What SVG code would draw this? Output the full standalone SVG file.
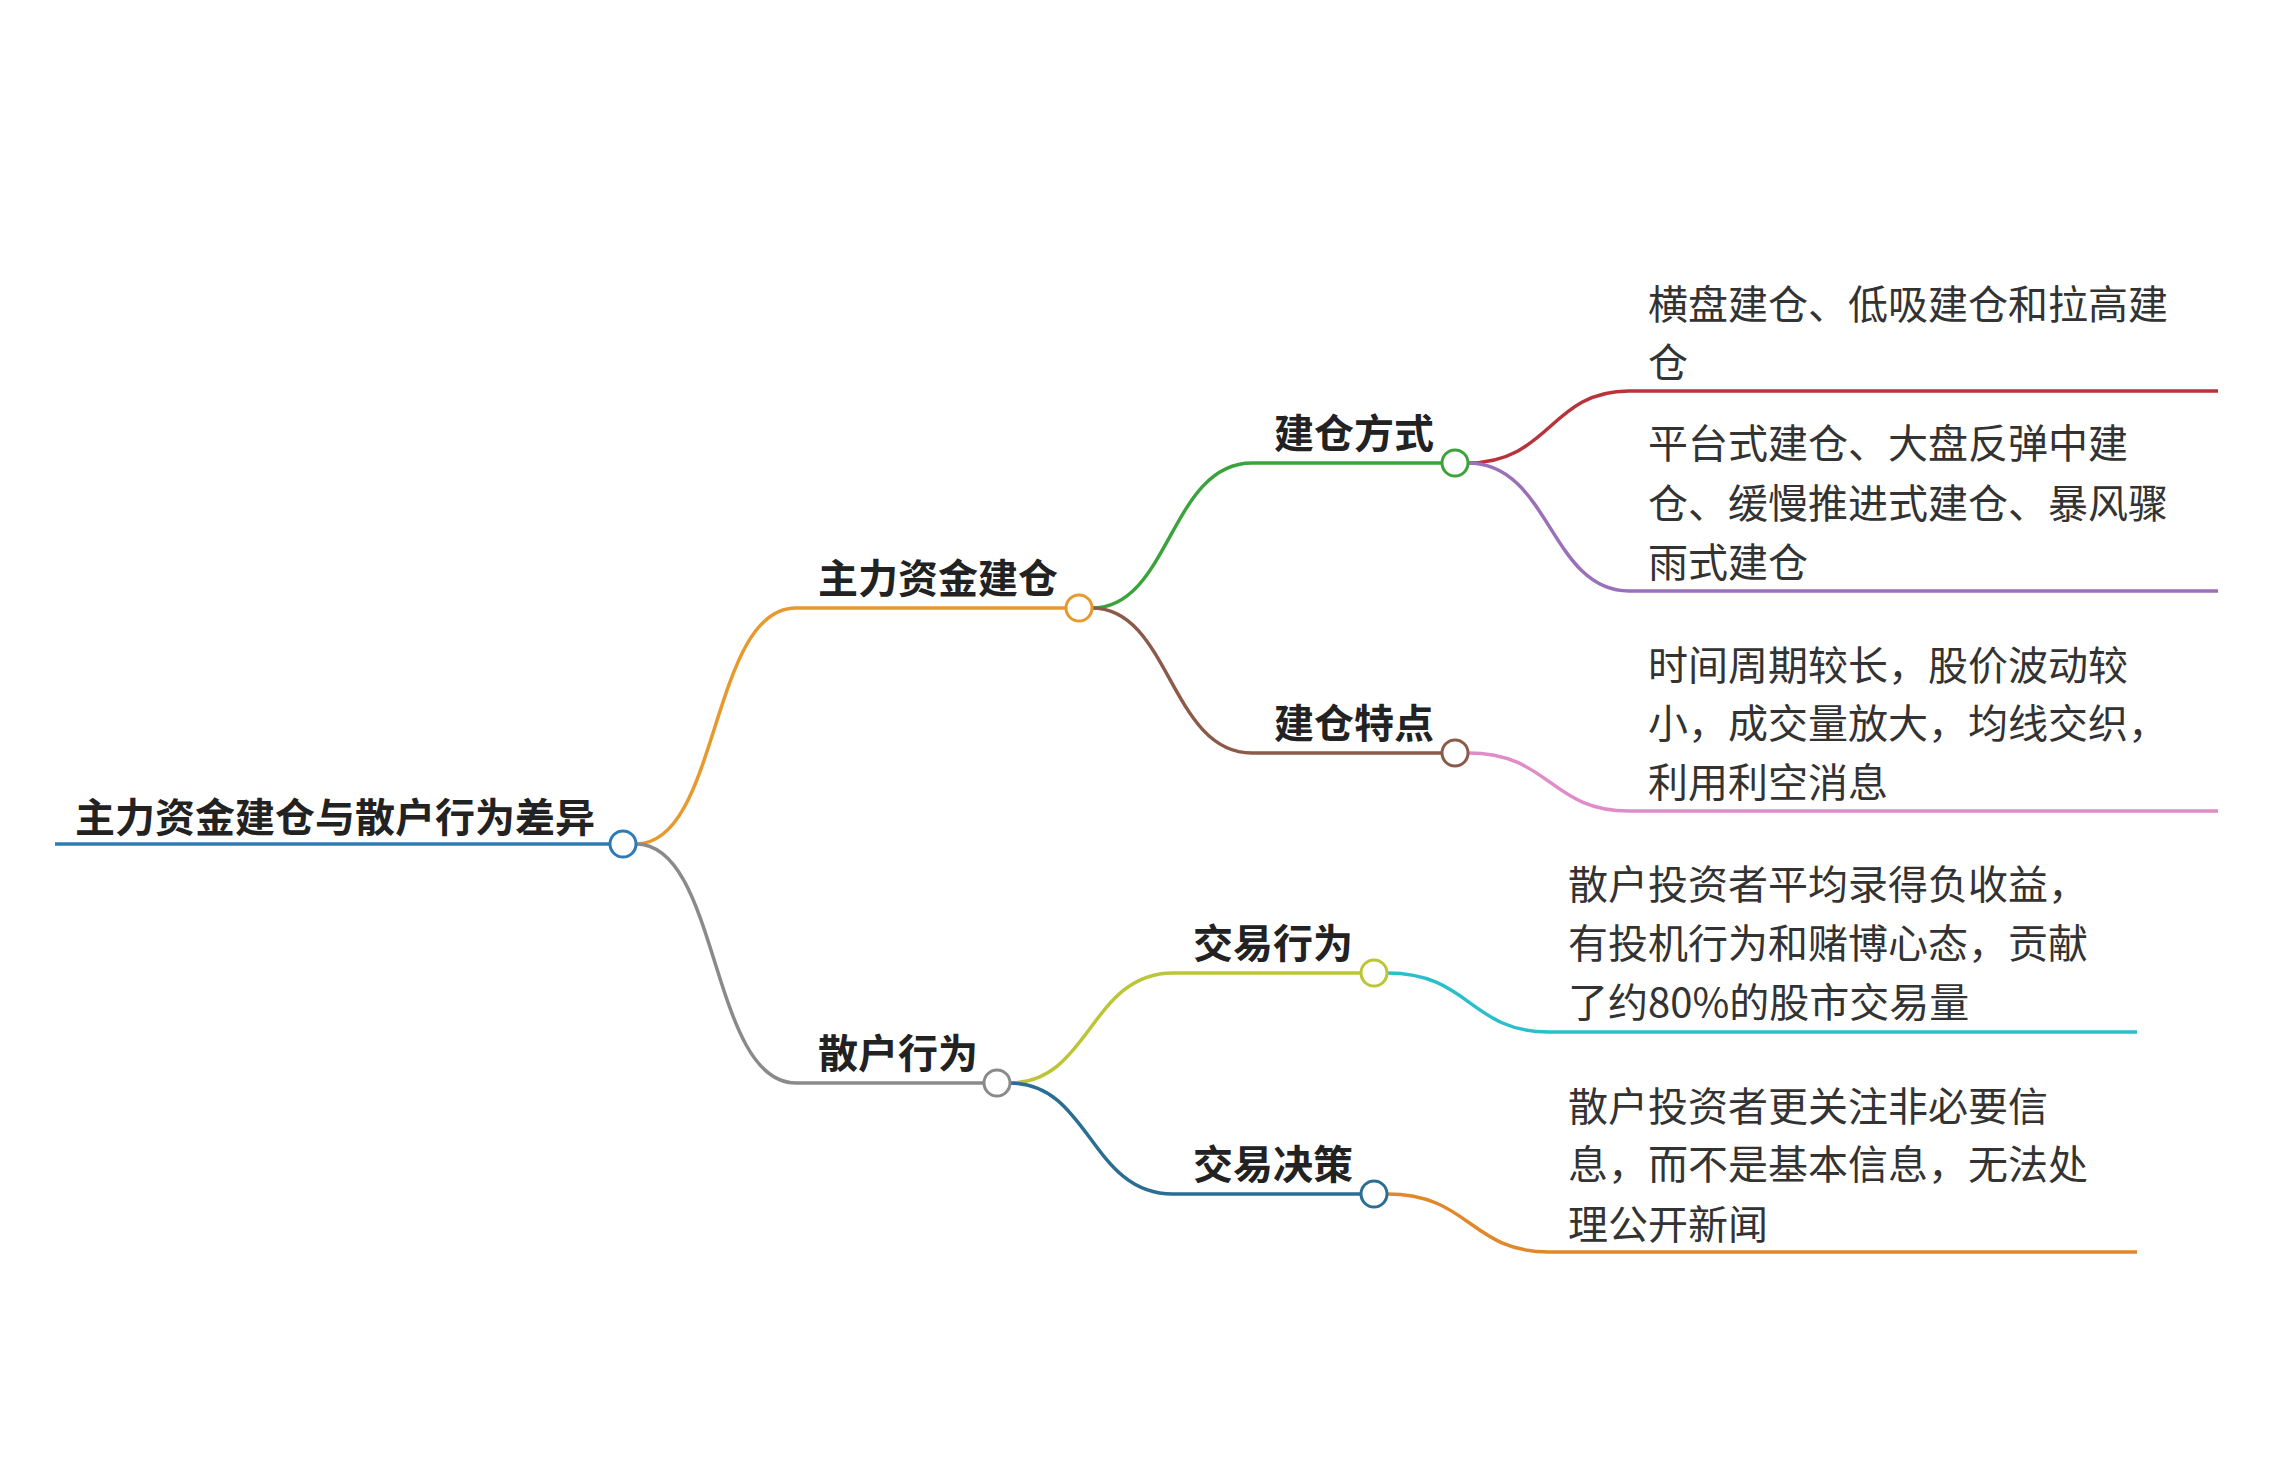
<svg xmlns="http://www.w3.org/2000/svg" width="2270" height="1478" viewBox="0 0 2270 1478">
<style>
.l{fill:none;stroke-width:3.5}
.c{fill:#fff;stroke-width:3}
.b{font-family:"Noto Sans CJK SC","Noto Sans",sans-serif;font-weight:bold;font-size:40px;fill:#222}
.t{font-family:"Noto Sans CJK SC","Noto Sans",sans-serif;font-size:40px;fill:#333}
</style>
<rect width="2270" height="1478" fill="#fff"/>
<g id="connectors">
<path class="l" stroke="#2e7bb4" d="M55,844 H610"/>
<path class="l" stroke="#e8992e" d="M636,844 C720,844 710,608 796,608 H1066"/>
<path class="l" stroke="#8a8a8a" d="M636,844 C720,844 710,1083 796,1083 H984"/>
<path class="l" stroke="#3ba33b" d="M1092,608 C1170,608 1170,463 1252,463 H1442"/>
<path class="l" stroke="#8b5a48" d="M1092,608 C1170,608 1170,753 1252,753 H1442"/>
<path class="l" stroke="#bcc536" d="M1010,1083 C1090,1083 1090,973 1173,973 H1361"/>
<path class="l" stroke="#2a6e94" d="M1010,1083 C1090,1083 1090,1194 1173,1194 H1361"/>
<path class="l" stroke="#b8333a" d="M1468,463 C1550,463 1550,391 1629,391 H2218"/>
<path class="l" stroke="#9a70b8" d="M1468,463 C1550,463 1550,591 1629,591 H2218"/>
<path class="l" stroke="#e08cc8" d="M1468,753 C1550,753 1550,811 1629,811 H2218"/>
<path class="l" stroke="#2bbfcc" d="M1387,973 C1470,973 1470,1032 1549,1032 H2137"/>
<path class="l" stroke="#e0882a" d="M1387,1194 C1470,1194 1470,1252 1549,1252 H2137"/>
</g>
<g id="root"><circle class="c" stroke="#2e7bb4" cx="623" cy="844" r="13"/><text class="b" x="75" y="832">主力资金建仓与散户行为差异</text></g>
<g id="n1"><circle class="c" stroke="#e8992e" cx="1079" cy="608" r="13"/><text class="b" x="818" y="593">主力资金建仓</text></g>
<g id="n2"><circle class="c" stroke="#8a8a8a" cx="997" cy="1083" r="13"/><text class="b" x="818" y="1068">散户行为</text></g>
<g id="n11"><circle class="c" stroke="#3ba33b" cx="1455" cy="463" r="13"/><text class="b" x="1274" y="448">建仓方式</text></g>
<g id="n12"><circle class="c" stroke="#8b5a48" cx="1455" cy="753" r="13"/><text class="b" x="1274" y="738">建仓特点</text></g>
<g id="n21"><circle class="c" stroke="#bcc536" cx="1374" cy="973" r="13"/><text class="b" x="1193" y="958">交易行为</text></g>
<g id="n22"><circle class="c" stroke="#2a6e94" cx="1374" cy="1194" r="13"/><text class="b" x="1193" y="1179">交易决策</text></g>
<g id="leaf1"><text class="t" x="1648" y="319">横盘建仓、低吸建仓和拉高建</text><text class="t" x="1648" y="377">仓</text></g>
<g id="leaf2"><text class="t" x="1648" y="458">平台式建仓、大盘反弹中建</text><text class="t" x="1648" y="518">仓、缓慢推进式建仓、暴风骤</text><text class="t" x="1648" y="577">雨式建仓</text></g>
<g id="leaf3"><text class="t" x="1648" y="680">时间周期较长，股价波动较</text><text class="t" x="1648" y="738">小，成交量放大，均线交织，</text><text class="t" x="1648" y="797">利用利空消息</text></g>
<g id="leaf4"><text class="t" x="1568" y="899">散户投资者平均录得负收益，</text><text class="t" x="1568" y="958">有投机行为和赌博心态，贡献</text><text class="t" x="1568" y="1017">了约80%的股市交易量</text></g>
<g id="leaf5"><text class="t" x="1568" y="1121">散户投资者更关注非必要信</text><text class="t" x="1568" y="1179">息，而不是基本信息，无法处</text><text class="t" x="1568" y="1239">理公开新闻</text></g>
</svg>
